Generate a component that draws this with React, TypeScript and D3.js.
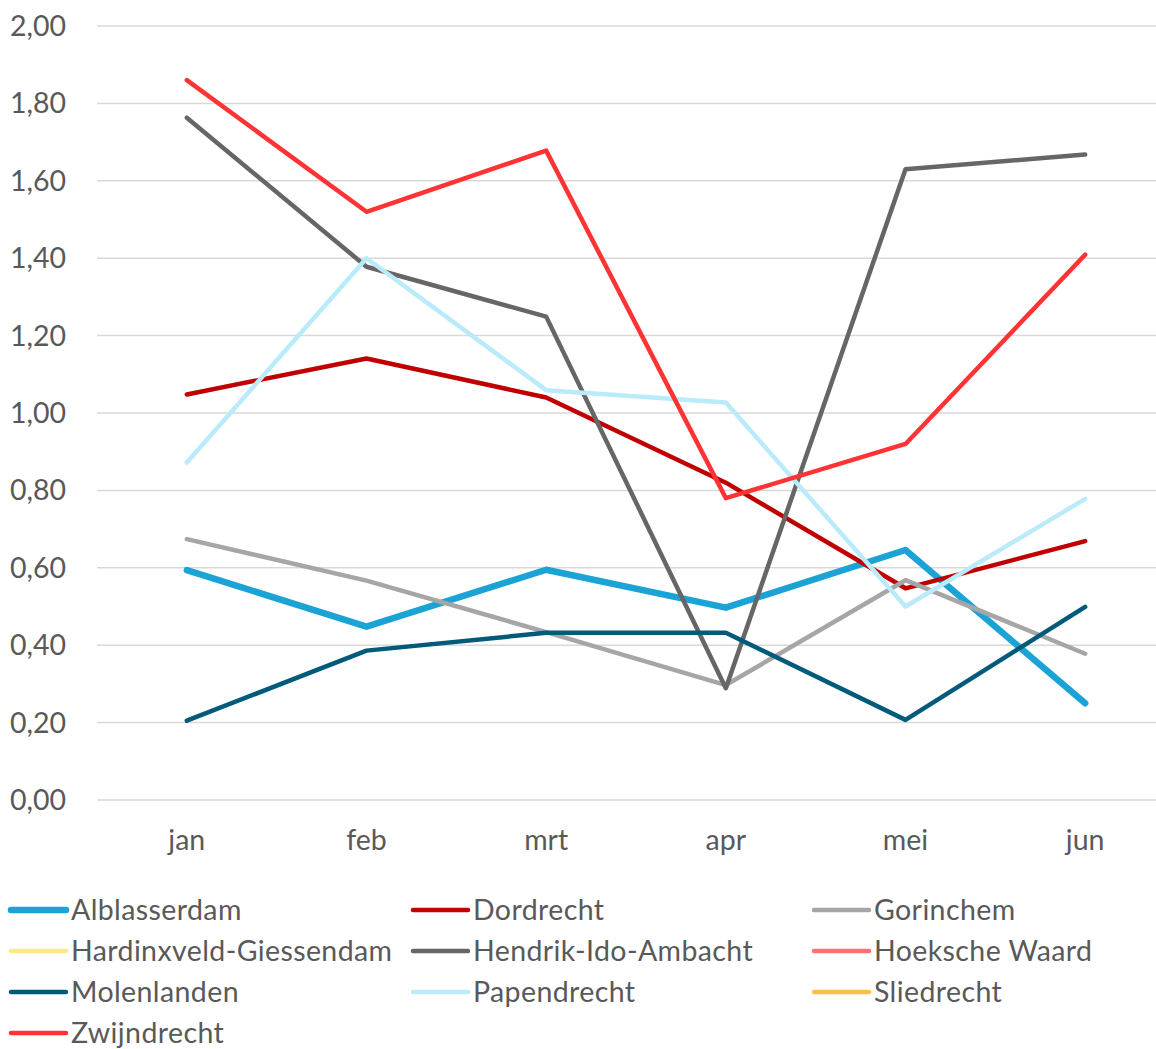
import { useEffect, useRef } from "react";
import * as d3 from "d3";

const months = ["jan", "feb", "mrt", "apr", "mei", "jun"];
const yTicks = [0, 0.2, 0.4, 0.6, 0.8, 1.0, 1.2, 1.4, 1.6, 1.8, 2.0];

const alblasserdam = [0.594, 0.448, 0.595, 0.497, 0.646, 0.25];
const dordrecht = [1.048, 1.141, 1.04, 0.82, 0.547, 0.669];
const gorinchem = [0.674, 0.567, 0.434, 0.297, 0.568, 0.378];
const hardinxveld: number[] = [];
const hendrik = [1.763, 1.378, 1.249, 0.289, 1.63, 1.668];
const hoekscheWaard: number[] = [];
const molenlanden = [0.205, 0.386, 0.432, 0.432, 0.207, 0.499];
const papendrecht = [0.872, 1.4, 1.059, 1.027, 0.5, 0.778];
const sliedrecht: number[] = [];
const zwijndrecht = [1.86, 1.52, 1.678, 0.78, 0.92, 1.409];

interface Series {
  name: string;
  values: number[];
  color: string;
  width: number;
}

const SERIES: Series[] = [
  { name: "Alblasserdam", values: alblasserdam, color: "#1ca3d6", width: 6.5 },
  { name: "Dordrecht", values: dordrecht, color: "#c00000", width: 4.5 },
  { name: "Gorinchem", values: gorinchem, color: "#a6a6a6", width: 4.5 },
  { name: "Hardinxveld-Giessendam", values: hardinxveld, color: "#ffe88a", width: 4.5 },
  { name: "Hendrik-Ido-Ambacht", values: hendrik, color: "#666666", width: 4.5 },
  { name: "Hoeksche Waard", values: hoekscheWaard, color: "#ff7070", width: 4.5 },
  { name: "Molenlanden", values: molenlanden, color: "#005b7a", width: 4.5 },
  { name: "Papendrecht", values: papendrecht, color: "#b9ebfb", width: 4.5 },
  { name: "Sliedrecht", values: sliedrecht, color: "#ffc04a", width: 4.5 },
  { name: "Zwijndrecht", values: zwijndrecht, color: "#ff3333", width: 4.5 },
];

const FONT = "Lato, 'Open Sans', sans-serif";
const TEXT = "#595959";
const FS = 28.5;

export default function App() {
  const svgRef = useRef<SVGSVGElement>(null);

  useEffect(() => {
    if (!svgRef.current) return;
    const width = 1156;
    const height = 1049;

    const svg = d3.select(svgRef.current);
    svg.selectAll("*").remove();
    svg.attr("width", width).attr("height", height);

    const x = d3.scalePoint<string>().domain(months).range([97, 1175]).padding(0.5);
    const y = d3.scaleLinear().domain([0, 2]).range([800, 26]);

    // gridlines
    svg
      .append("g")
      .selectAll("line")
      .data(yTicks)
      .join("line")
      .attr("x1", 97)
      .attr("x2", 1175)
      .attr("y1", (d) => y(d))
      .attr("y2", (d) => y(d))
      .attr("stroke", "#d9d9d9")
      .attr("stroke-width", 1.5);

    // y labels
    svg
      .append("g")
      .selectAll("text")
      .data(yTicks)
      .join("text")
      .attr("x", 66)
      .attr("y", (d) => y(d) + 10)
      .attr("text-anchor", "end")
      .attr("font-family", FONT)
      .attr("font-size", FS)
      .attr("fill", TEXT)
      .text((d) => d.toFixed(2).replace(".", ","));

    // x labels
    svg
      .append("g")
      .selectAll("text")
      .data(months)
      .join("text")
      .attr("x", (d) => x(d)!)
      .attr("y", 850)
      .attr("text-anchor", "middle")
      .attr("font-family", FONT)
      .attr("font-size", FS)
      .attr("fill", TEXT)
      .text((d) => d);

    const line = d3
      .line<number>()
      .x((_, i) => x(months[i])!)
      .y((d) => y(d));

    SERIES.filter((s) => s.values.length > 0).forEach((s) => {
      svg
        .append("path")
        .datum(s.values)
        .attr("d", line)
        .attr("fill", "none")
        .attr("stroke", s.color)
        .attr("stroke-width", s.width)
        .attr("stroke-linejoin", "round")
        .attr("stroke-linecap", "round");
    });

    // legend
    const colX = [11, 413, 814];
    const rowY = [910, 951, 992, 1033];
    const legend = svg.append("g");
    SERIES.forEach((s, i) => {
      const lx = colX[i % 3];
      const ly = rowY[Math.floor(i / 3)];
      legend
        .append("line")
        .attr("x1", lx)
        .attr("x2", lx + 55)
        .attr("y1", ly)
        .attr("y2", ly)
        .attr("stroke", s.color)
        .attr("stroke-width", s.width)
        .attr("stroke-linecap", "round");
      legend
        .append("text")
        .attr("x", lx + 60)
        .attr("y", ly + 10)
        .attr("font-family", FONT)
        .attr("font-size", FS)
        .attr("letter-spacing", 0.4)
        .attr("fill", TEXT)
        .text(s.name);
    });
  }, []);

  return (
    <svg
      ref={svgRef}
      style={{ position: "absolute", left: 0, top: 0, display: "block", background: "#fff" }}
    />
  );
}
